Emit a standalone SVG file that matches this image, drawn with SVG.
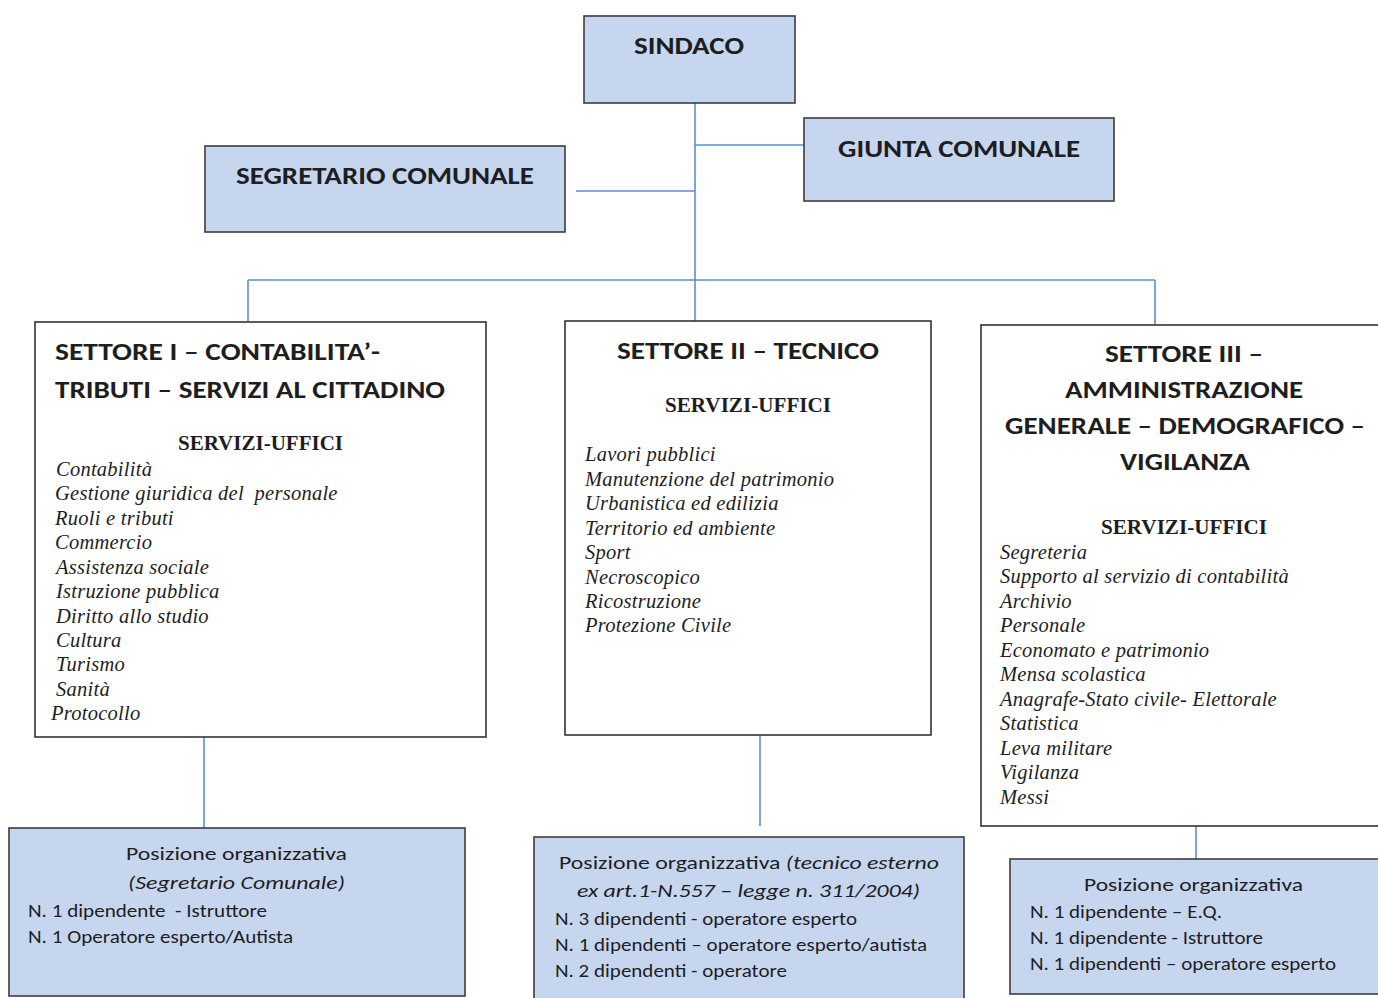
<svg xmlns="http://www.w3.org/2000/svg" width="1378" height="998" viewBox="0 0 1378 998">
<style>
.blue{fill:#c7d6ef;stroke:#3c3c3c;stroke-width:1.6}
.white{fill:#ffffff;stroke:#333333;stroke-width:1.6}
.conn{stroke:#5a8ed2;stroke-width:1.6;fill:none}
.h{font-family:Carlito,Lato,"Liberation Sans",sans-serif;font-weight:bold;font-size:25px;fill:#1e1e1e}
.su{font-family:"Liberation Serif","Times New Roman",serif;font-weight:bold;font-size:20.5px;fill:#1e1e1e}
.it{font-family:"Liberation Serif","Times New Roman",serif;font-style:italic;font-size:20.5px;letter-spacing:0.25px;fill:#1e1e1e}
.p{font-family:Carlito,Lato,"Liberation Sans",sans-serif;font-size:19px;fill:#1e1e1e}
.pi{font-style:italic}
</style>
<rect width="1378" height="998" fill="#ffffff"/>
<g id="connectors">
<path class="conn" d="M695,103 V322"/>
<path class="conn" d="M695,145 H804"/>
<path class="conn" d="M576,191 H695"/>
<path class="conn" d="M248,280 H1155"/>
<path class="conn" d="M248,280 V322"/>
<path class="conn" d="M1155,280 V325"/>
<path class="conn" d="M204,737 V828"/>
<path class="conn" d="M760,735 V826"/>
<path class="conn" d="M1196,826 V859"/>
</g>
<g id="sindaco">
<rect class="blue" x="584" y="16" width="211" height="87"/>
<text class="h" x="634" y="54" textLength="110" lengthAdjust="spacingAndGlyphs">SINDACO</text>
</g>
<g id="giunta">
<rect class="blue" x="804" y="118" width="310" height="83"/>
<text class="h" x="838" y="157" textLength="242" lengthAdjust="spacingAndGlyphs">GIUNTA COMUNALE</text>
</g>
<g id="segretario">
<rect class="blue" x="205" y="146" width="360" height="86"/>
<text class="h" x="236" y="184" textLength="298" lengthAdjust="spacingAndGlyphs">SEGRETARIO COMUNALE</text>
</g>
<g id="settore1">
<rect class="white" x="35" y="322" width="451" height="415"/>
<text class="h" x="55" y="360" textLength="325" lengthAdjust="spacingAndGlyphs">SETTORE I – CONTABILITA’-</text>
<text class="h" x="55" y="398" textLength="390" lengthAdjust="spacingAndGlyphs">TRIBUTI – SERVIZI AL CITTADINO</text>
<text class="su" x="178" y="450" textLength="165" lengthAdjust="spacingAndGlyphs">SERVIZI-UFFICI</text>
<text class="it" x="56" y="476">Contabilità</text>
<text class="it" x="55" y="500" xml:space="preserve">Gestione giuridica del  personale</text>
<text class="it" x="55" y="525">Ruoli e tributi</text>
<text class="it" x="55" y="549">Commercio</text>
<text class="it" x="56" y="574">Assistenza sociale</text>
<text class="it" x="56" y="598">Istruzione pubblica</text>
<text class="it" x="56" y="623">Diritto allo studio</text>
<text class="it" x="56" y="647">Cultura</text>
<text class="it" x="56" y="671">Turismo</text>
<text class="it" x="56" y="696">Sanità</text>
<text class="it" x="51" y="720">Protocollo</text>
</g>
<g id="settore2">
<rect class="white" x="565" y="321" width="366" height="414"/>
<text class="h" x="617" y="359" textLength="262" lengthAdjust="spacingAndGlyphs">SETTORE II – TECNICO</text>
<text class="su" x="665" y="412" textLength="166" lengthAdjust="spacingAndGlyphs">SERVIZI-UFFICI</text>
<text class="it" x="585" y="461">Lavori pubblici</text>
<text class="it" x="585" y="486">Manutenzione del patrimonio</text>
<text class="it" x="585" y="510">Urbanistica ed edilizia</text>
<text class="it" x="585" y="535">Territorio ed ambiente</text>
<text class="it" x="585" y="559">Sport</text>
<text class="it" x="585" y="584">Necroscopico</text>
<text class="it" x="585" y="608">Ricostruzione</text>
<text class="it" x="585" y="632">Protezione Civile</text>
</g>
<g id="settore3">
<rect class="white" x="981" y="325" width="420" height="501"/>
<text class="h" x="1105" y="362" textLength="158" lengthAdjust="spacingAndGlyphs">SETTORE III –</text>
<text class="h" x="1065" y="398" textLength="238" lengthAdjust="spacingAndGlyphs">AMMINISTRAZIONE</text>
<text class="h" x="1005" y="434" textLength="360" lengthAdjust="spacingAndGlyphs">GENERALE – DEMOGRAFICO –</text>
<text class="h" x="1120" y="470" textLength="130" lengthAdjust="spacingAndGlyphs">VIGILANZA</text>
<text class="su" x="1101" y="534" textLength="166" lengthAdjust="spacingAndGlyphs">SERVIZI-UFFICI</text>
<text class="it" x="1000" y="559">Segreteria</text>
<text class="it" x="1000" y="583">Supporto al servizio di contabilità</text>
<text class="it" x="1000" y="608">Archivio</text>
<text class="it" x="1000" y="632">Personale</text>
<text class="it" x="1000" y="657">Economato e patrimonio</text>
<text class="it" x="1000" y="681">Mensa scolastica</text>
<text class="it" x="1000" y="706">Anagrafe-Stato civile- Elettorale</text>
<text class="it" x="1000" y="730">Statistica</text>
<text class="it" x="1000" y="755">Leva militare</text>
<text class="it" x="1000" y="779">Vigilanza</text>
<text class="it" x="1000" y="804">Messi</text>
</g>
<g id="po1">
<rect class="blue" x="9" y="828" width="456" height="168"/>
<text class="p" x="126" y="860" textLength="221" lengthAdjust="spacingAndGlyphs">Posizione organizzativa</text>
<text class="p pi" x="128" y="889" textLength="217" lengthAdjust="spacingAndGlyphs">(Segretario Comunale)</text>
<text class="p" x="28" y="917" textLength="239" lengthAdjust="spacingAndGlyphs" xml:space="preserve">N. 1 dipendente  - Istruttore</text>
<text class="p" x="28" y="943" textLength="265" lengthAdjust="spacingAndGlyphs">N. 1 Operatore esperto/Autista</text>
</g>
<g id="po2">
<rect class="blue" x="534" y="837" width="430" height="170"/>
<text class="p" x="559" y="869" textLength="380" lengthAdjust="spacingAndGlyphs">Posizione organizzativa <tspan class="pi">(tecnico esterno</tspan></text>
<text class="p pi" x="577" y="897" textLength="343" lengthAdjust="spacingAndGlyphs">ex art.1-N.557 – legge n. 311/2004)</text>
<text class="p" x="555" y="925" textLength="302" lengthAdjust="spacingAndGlyphs">N. 3 dipendenti - operatore esperto</text>
<text class="p" x="555" y="951" textLength="372" lengthAdjust="spacingAndGlyphs">N. 1 dipendenti – operatore esperto/autista</text>
<text class="p" x="555" y="977" textLength="232" lengthAdjust="spacingAndGlyphs">N. 2 dipendenti - operatore</text>
</g>
<g id="po3">
<rect class="blue" x="1010" y="859" width="400" height="135"/>
<text class="p" x="1084" y="891" textLength="219" lengthAdjust="spacingAndGlyphs">Posizione organizzativa</text>
<text class="p" x="1030" y="918" textLength="192" lengthAdjust="spacingAndGlyphs">N. 1 dipendente – E.Q.</text>
<text class="p" x="1030" y="944" textLength="233" lengthAdjust="spacingAndGlyphs">N. 1 dipendente - Istruttore</text>
<text class="p" x="1030" y="970" textLength="306" lengthAdjust="spacingAndGlyphs">N. 1 dipendenti – operatore esperto</text>
</g>
</svg>
